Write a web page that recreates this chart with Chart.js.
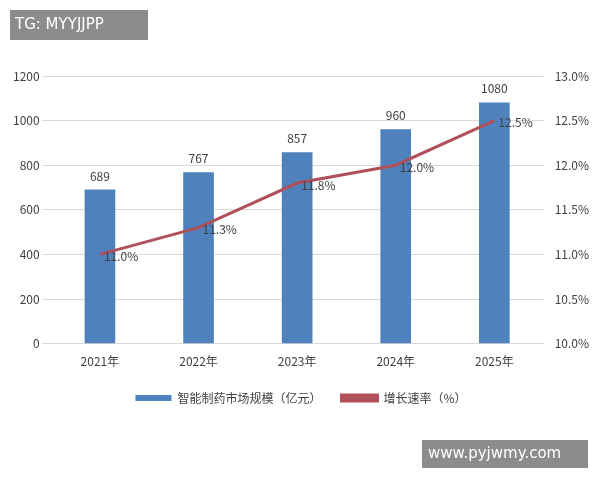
<!DOCTYPE html>
<html><head><meta charset="utf-8">
<script src="https://cdn.jsdelivr.net/npm/chart.js@4"></script>
<style>body{margin:0;background:#fff}#wrap{width:600px;height:480px;position:relative}</style>
</head><body><div id="wrap"><canvas id="c"></canvas></div>
<script>
const years = ['2021年', '2022年', '2023年', '2024年', '2025年'];
const marketSize = [689, 767, 857, 960, 1080];
const growthRate = [11.0, 11.3, 11.8, 12.0, 12.5];
const font = '"Noto Sans CJK SC", "Noto Sans", sans-serif';

const labelsPlugin = {
  id: 'labels',
  afterDatasetsDraw(chart) {
    const ctx = chart.ctx;
    ctx.save();
    ctx.font = '12px ' + font;
    ctx.fillStyle = '#404040';
    ctx.textAlign = 'center';
    ctx.textBaseline = 'bottom';
    chart.getDatasetMeta(1).data.forEach((b, i) => ctx.fillText(marketSize[i], b.x, b.y - 8));
    ctx.textAlign = 'left';
    ctx.textBaseline = 'middle';
    chart.getDatasetMeta(0).data.forEach((p, i) => ctx.fillText(growthRate[i].toFixed(1) + '%', p.x + 4, p.y + 2));
    ctx.restore();
  },
  afterDraw(chart) {
    const ctx = chart.ctx;
    ctx.save();
    ctx.fillStyle = 'rgba(120,120,120,0.85)';
    ctx.fillRect(10, 10, 138, 30);
    ctx.fillRect(422, 440, 166, 28);
    ctx.fillStyle = '#fff';
    ctx.font = '15px "DejaVu Sans", sans-serif';
    ctx.textBaseline = 'middle';
    ctx.fillText('TG: MYYJJPP', 15, 25);
    ctx.fillText('www.pyjwmy.com', 428, 454);
    ctx.restore();
  }
};

new Chart(document.getElementById('c'), {
  data: {
    labels: years,
    datasets: [
      { type: 'line', label: '增长速率（%）', data: growthRate, yAxisID: 'y1',
        borderColor: '#b0505a', backgroundColor: '#b0505a', borderWidth: 3, pointRadius: 0, order: 0 },
      { type: 'bar', label: '智能制药市场规模（亿元）', data: marketSize, yAxisID: 'y',
        backgroundColor: '#4f81bd', barThickness: 30, order: 1 }
    ]
  },
  options: {
    responsive: true, maintainAspectRatio: false, animation: false,
    layout: { padding: { top: 76, left: 10, right: 8, bottom: 66 } },
    plugins: {
      legend: { position: 'bottom', reverse: true,
        labels: { font: { family: font, size: 12 }, color: '#404040', boxWidth: 36, boxHeight: 6, padding: 20 } },
      tooltip: { enabled: false }
    },
    scales: {
      x: { grid: { display: false }, border: { color: '#d9d9d9' },
        ticks: { font: { family: font, size: 12 }, color: '#404040' } },
      y: { min: 0, max: 1200, ticks: { stepSize: 200, callback: v => String(v), font: { family: font, size: 12 }, color: '#404040' },
        grid: { color: '#d9d9d9' }, border: { display: false } },
      y1: { position: 'right', min: 10, max: 13, grid: { display: false }, border: { display: false },
        ticks: { stepSize: 0.5, callback: v => v.toFixed(1) + '%', font: { family: font, size: 12 }, color: '#404040' } }
    }
  },
  plugins: [labelsPlugin]
});
</script></body></html>
